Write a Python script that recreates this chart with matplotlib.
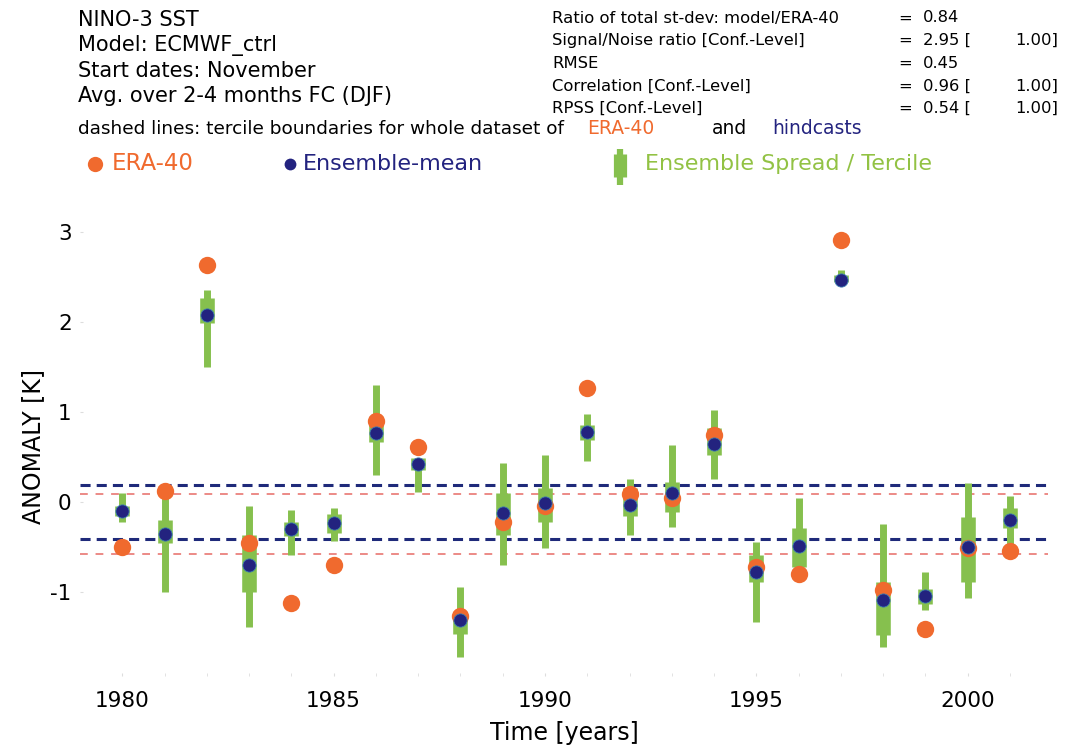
"""NINO-3 SST hindcast verification plot (ECMWF_ctrl vs ERA-40)."""
import matplotlib
matplotlib.use("Agg")
import matplotlib.pyplot as plt
from matplotlib.lines import Line2D
import numpy as np

plt.rcParams["font.family"] = ["DejaVu Sans"]
plt.rcParams["axes.unicode_minus"] = False

# ---------------------------------------------------------------------------
# Data
# ---------------------------------------------------------------------------
years = np.arange(1980, 2002)

era40 = [-0.50, 0.12, 2.63, -0.46, -1.12, -0.70, 0.90, 0.61, -1.26, -0.22, -0.04,
         1.26, 0.09, 0.04, 0.74, -0.72, -0.80, 2.91, -0.98, -1.41, -0.51, -0.54]
ens_mean = [-0.10, -0.35, 2.07, -0.70, -0.30, -0.23, 0.76, 0.42, -1.31, -0.12, -0.01,
            0.78, -0.03, 0.10, 0.64, -0.78, -0.49, 2.46, -1.09, -1.04, -0.50, -0.20]

# full ensemble spread (min / max)
spread_lo = [-0.22, -1.00, 1.50, -1.39, -0.59, -0.43, 0.30, 0.11, -1.72, -0.70, -0.51,
             0.46, -0.37, -0.28, 0.26, -1.33, -0.75, 2.43, -1.61, -1.20, -1.07, -0.50]
spread_hi = [0.10, 0.13, 2.35, -0.04, -0.09, -0.07, 1.30, 0.46, -0.94, 0.43, 0.52,
             0.98, 0.26, 0.63, 1.02, -0.44, 0.04, 2.57, -0.24, -0.78, 0.21, 0.07]

# inner tercile box
terc_lo = [-0.16, -0.46, 1.98, -1.00, -0.38, -0.34, 0.67, 0.35, -1.46, -0.37, -0.22,
           0.69, -0.15, -0.11, 0.52, -0.89, -0.72, 2.44, -1.48, -1.13, -0.89, -0.29]
terc_hi = [-0.04, -0.20, 2.26, -0.37, -0.22, -0.13, 0.89, 0.49, -1.22, 0.10, 0.15,
           0.85, 0.15, 0.22, 0.82, -0.59, -0.29, 2.52, -0.89, -0.96, -0.17, -0.07]

# tercile boundaries for whole dataset
era_terciles = [0.086, -0.58]
hind_terciles = [0.193, -0.41]

stats_labels = [
    "Ratio of total st-dev: model/ERA-40",
    "Signal/Noise ratio [Conf.-Level]",
    "RMSE",
    "Correlation [Conf.-Level]",
    "RPSS [Conf.-Level]",
]
stats_values = ["0.84", "2.95", "0.45", "0.96", "0.54"]
stats_conf = [None, "1.00", None, "1.00", "1.00"]

header_lines = [
    "NINO-3 SST",
    "Model: ECMWF_ctrl",
    "Start dates: November",
    "Avg. over 2-4 months FC (DJF)",
]

# ---------------------------------------------------------------------------
# Styling
# ---------------------------------------------------------------------------
ORANGE = "#f06a2e"
NAVY = "#23237f"
GREEN = "#86c04e"
GREEN_TXT = "#92c244"
DASH_BLUE = "#1f2a7a"
DASH_RED = "#ec8a86"

W, H = 1073, 749
fig = plt.figure(figsize=(W / 100, H / 100), dpi=100)


def fx(px):
    return px / W


def fy(py):
    return 1 - py / H


ax = fig.add_axes([fx(80), fy(676), fx(1048) - fx(80), fy(218) - fy(676)])

# tercile boundary lines
for v in hind_terciles:
    ax.axhline(v, color=DASH_BLUE, lw=2.2, dashes=(3.3, 2.0), zorder=1)
for v in era_terciles:
    ax.axhline(v, color=DASH_RED, lw=1.4, dashes=(4.0, 4.0), zorder=1)

# ensemble spread and tercile box
ax.vlines(years, spread_lo, spread_hi, color=GREEN, lw=5, zorder=2)
ax.vlines(years, terc_lo, terc_hi, color=GREEN, lw=10.5, zorder=2)

ax.plot(years, era40, "o", color=ORANGE, ms=12.5, mec="none", zorder=3)
ax.plot(years, ens_mean, "o", color=NAVY, ms=9.5, mec="#3a7ab0", mew=0.6, zorder=4)

ax.set_xlim(1979.0, 2001.9)
ax.set_ylim(-1.93, 3.15)
ax.set_xticks([1980, 1985, 1990, 1995, 2000])
ax.set_xticks(years, minor=True)
ax.set_yticks([-1, 0, 1, 2, 3])
ax.tick_params(axis="both", which="both", direction="in", color="#dddddd",
               length=2, labelsize=15.5)
ax.tick_params(axis="x", pad=11)
ax.tick_params(axis="y", pad=6)
for s in ax.spines.values():
    s.set_visible(False)
ax.set_xlabel("Time [years]", fontsize=17, labelpad=7)
ax.set_ylabel("ANOMALY [K]", fontsize=17, labelpad=4)

# ---------------------------------------------------------------------------
# Header text
# ---------------------------------------------------------------------------
for i, line in enumerate(header_lines):
    fig.text(fx(78), fy(20 + i * 25.5), line, fontsize=15, va="center")

for i, lab in enumerate(stats_labels):
    y = fy(18 + i * 22.6)
    fig.text(fx(552), y, lab, fontsize=11.8, va="center")
    fig.text(fx(898), y, "=", fontsize=11.8, va="center")
    txt = stats_values[i] + (" [" if stats_conf[i] else "")
    fig.text(fx(923), y, txt, fontsize=11.8, va="center")
    if stats_conf[i]:
        fig.text(fx(1058), y, stats_conf[i] + "]", fontsize=11.8, va="center", ha="right")

yl = fy(129)
fig.text(fx(78), yl, "dashed lines: tercile boundaries for whole dataset of",
         fontsize=13.3, va="center")
fig.text(fx(587), yl, "ERA-40", fontsize=13.5, va="center", color=ORANGE)
fig.text(fx(712), yl, "and", fontsize=13.5, va="center")
fig.text(fx(772), yl, "hindcasts", fontsize=13.5, va="center", color=NAVY)

# legend row
yleg = 164
fig.add_artist(Line2D([fx(95)], [fy(yleg)], marker="o", color=ORANGE, ms=11, mec="none"))
fig.text(fx(112), fy(yleg), "ERA-40", fontsize=16.5, va="center", color=ORANGE)
fig.add_artist(Line2D([fx(290)], [fy(yleg)], marker="o", color=NAVY, ms=8.5, mec="none"))
fig.text(fx(303), fy(yleg), "Ensemble-mean", fontsize=16, va="center", color=NAVY)
fig.add_artist(Line2D([fx(620), fx(620)], [fy(149), fy(185)], color=GREEN, lw=4.5,
                      solid_capstyle="butt"))
fig.add_artist(Line2D([fx(620), fx(620)], [fy(154), fy(177)], color=GREEN, lw=9.5,
                      solid_capstyle="butt"))
fig.text(fx(645), fy(yleg), "Ensemble Spread / Tercile", fontsize=16, va="center",
         color=GREEN_TXT)

fig.savefig("out.png", dpi=100)
